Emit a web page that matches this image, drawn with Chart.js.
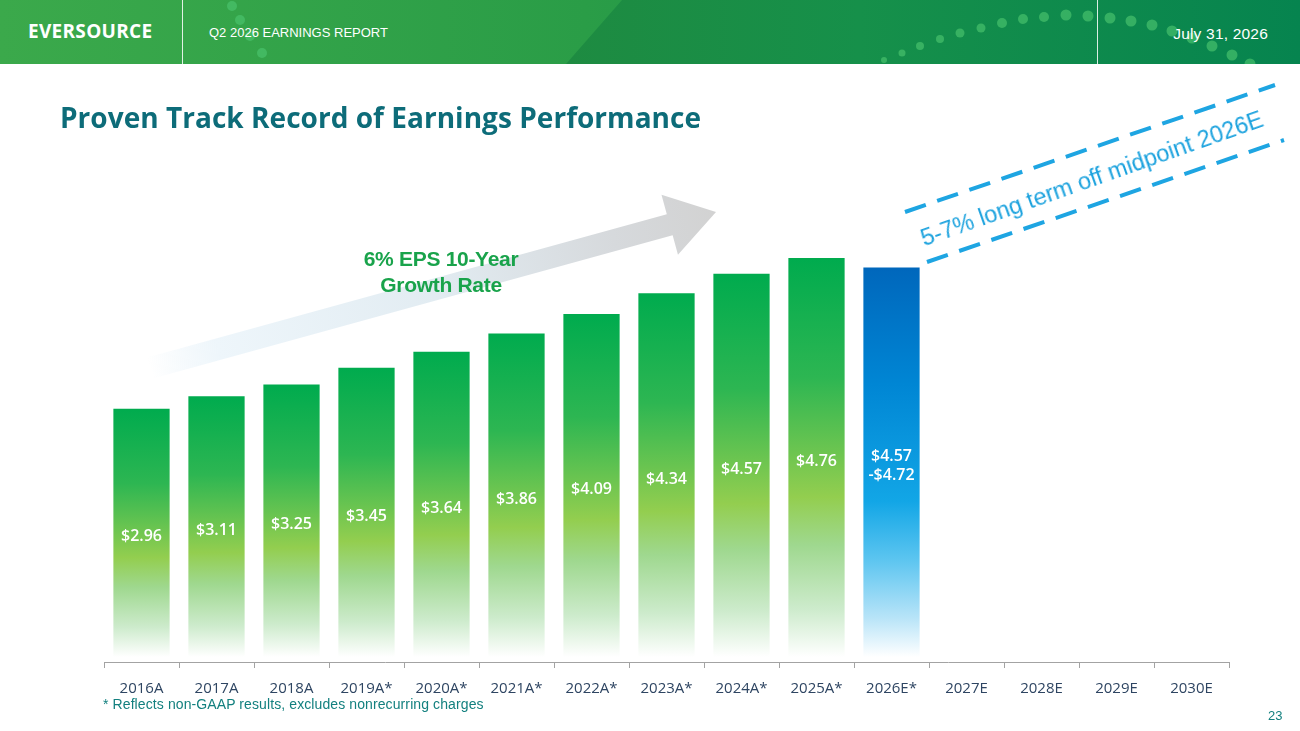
<!DOCTYPE html>
<html>
<head>
<meta charset="utf-8">
<title>Proven Track Record of Earnings Performance</title>
<script src="https://cdn.jsdelivr.net/npm/chart.js@4.4.1/dist/chart.umd.min.js"></script>
<style>
  html, body { margin: 0; padding: 0; background: #fff; }
  .slide { position: relative; width: 1300px; height: 731px; overflow: hidden; font-family: "Open Sans", sans-serif; }
  .chart-wrap { position: absolute; left: 0; top: 0; width: 1300px; height: 731px; }
  .header { position: absolute; left: 0; top: 0; width: 1300px; height: 64px; }
  .header svg { position: absolute; left: 0; top: 0; }
  .logo { position: absolute; left: 28px; top: 18px; color: #fff; font: 700 19px "Open Sans", sans-serif; letter-spacing: 0.3px; }
  .report { position: absolute; left: 209px; top: 25px; color: #fff; font: 13px "Liberation Sans", sans-serif; }
  .date { position: absolute; right: 32px; top: 25px; color: #fff; font: 15.5px "Liberation Sans", sans-serif; letter-spacing: 0.2px; }
  .title { position: absolute; left: 60px; top: 98px; color: #0d6c79; font: 700 28px "Open Sans", sans-serif; letter-spacing: 0.03px; }
  .growth { position: absolute; left: 341px; top: 246px; width: 200px; text-align: center; color: #19a34b; font: 700 21px/26px "Liberation Sans Narrow", "Liberation Sans", sans-serif; letter-spacing: -0.3px; }
  .long-term { position: absolute; left: 1092px; top: 179px; transform: translate(-50%, -50%) rotate(-19.5deg); white-space: nowrap; color: #1ba2de; font: 23.5px "Liberation Sans", sans-serif; }
  .footnote { position: absolute; left: 103px; top: 696px; color: #13807f; font: 14px "Liberation Sans Narrow", "Liberation Sans", sans-serif; letter-spacing: 0.1px; }
  .page-no { position: absolute; left: 1268px; top: 708px; color: #13807f; font: 13px "Liberation Sans", sans-serif; }
</style>
</head>
<body>
<div class="slide">
  <div class="chart-wrap"><canvas id="epsChart"></canvas></div>

  <div class="header">
    <svg width="1300" height="64">
      <defs>
        <linearGradient id="hdrBase" x1="0" x2="1" y1="0" y2="0">
          <stop offset="0" stop-color="#3ba94b"/>
          <stop offset="0.45" stop-color="#2a9d47"/>
          <stop offset="1" stop-color="#0a8750"/>
        </linearGradient>
        <linearGradient id="hdrDark" x1="0" x2="1" y1="0" y2="0">
          <stop offset="0" stop-color="#1e8b41"/>
          <stop offset="0.4" stop-color="#16904a"/>
          <stop offset="1" stop-color="#06844f"/>
        </linearGradient>
      </defs>
      <rect width="1300" height="64" fill="url(#hdrBase)"/>
      <polygon points="566,64 622,0 1300,0 1300,64" fill="url(#hdrDark)"/>
      <g fill="#4cc56f" fill-opacity="0.65">
        <circle cx="232" cy="6" r="5"/><circle cx="240" cy="20" r="5"/><circle cx="250" cy="36" r="5"/><circle cx="262" cy="53" r="5"/>
        <circle cx="884" cy="60" r="3"/><circle cx="902" cy="53" r="3.5"/><circle cx="920" cy="46" r="4"/><circle cx="940" cy="39" r="4"/>
        <circle cx="960" cy="33" r="4.5"/><circle cx="981" cy="28" r="4.5"/><circle cx="1002" cy="23" r="5"/><circle cx="1023" cy="19" r="5"/>
        <circle cx="1044" cy="17" r="5"/><circle cx="1066" cy="15" r="5.5"/><circle cx="1088" cy="16" r="5.5"/><circle cx="1110" cy="18" r="5.5"/>
        <circle cx="1131" cy="21" r="5.5"/><circle cx="1152" cy="25" r="5.5"/><circle cx="1172" cy="31" r="5.5"/><circle cx="1192" cy="38" r="5.5"/>
        <circle cx="1212" cy="46" r="5.5"/><circle cx="1232" cy="55" r="5.5"/><circle cx="1250" cy="64" r="5.5"/>
      </g>
      <line x1="182.5" y1="0" x2="182.5" y2="64" stroke="#ffffff" stroke-opacity="0.85"/>
      <line x1="1097.5" y1="0" x2="1097.5" y2="64" stroke="#ffffff" stroke-opacity="0.85"/>
    </svg>
    <div class="logo">EVERSOURCE</div>
    <div class="report">Q2 2026 EARNINGS REPORT</div>
    <div class="date">July 31, 2026</div>
  </div>

  <div class="title">Proven Track Record of Earnings Performance</div>
  <div class="growth">6% EPS 10-Year<br>Growth Rate</div>
  <div class="long-term">5-7% long term off midpoint 2026E</div>
  <div class="footnote">* Reflects non-GAAP results, excludes nonrecurring charges</div>
  <div class="page-no">23</div>
</div>

<script>
// Fiscal years on the axis; the last four have no bar yet.
const years = ["2016A", "2017A", "2018A", "2019A*", "2020A*", "2021A*", "2022A*", "2023A*",
  "2024A*", "2025A*", "2026E*", "2027E", "2028E", "2029E", "2030E"];

// EPS per year. 2026E is the guidance midpoint ($4.57-$4.72).
const eps = [2.96, 3.11, 3.25, 3.45, 3.64, 3.86, 4.09, 4.34, 4.57, 4.76, 4.645, null, null, null, null];

// Text shown inside each bar.
const epsLabels = ["$2.96", "$3.11", "$3.25", "$3.45", "$3.64", "$3.86", "$4.09", "$4.34",
  "$4.57", "$4.76", ["$4.57", "-$4.72"], "", "", "", ""];

// Actual results are green, the guidance year is blue.
const barKinds = ["actual", "actual", "actual", "actual", "actual", "actual", "actual", "actual",
  "actual", "actual", "guidance", "none", "none", "none", "none"];

const greenStops = [[0, "#00ab4e"], [0.3, "#2db652"], [0.6, "#93ce4f"], [0.72, "#9fd88f"], [0.88, "#cdebcc"], [1, "#ffffff"]];
const blueStops = [[0, "#0067bc"], [0.3, "#0086d4"], [0.6, "#12a6e6"], [0.75, "#5cc5f0"], [0.9, "#b8e4f8"], [1, "#ffffff"]];

function barFill(context) {
  const chart = context.chart;
  const value = context.raw;
  if (!chart.chartArea || value == null) return "rgba(0,0,0,0)";
  const y = chart.scales.y;
  const top = y.getPixelForValue(value);
  const base = y.getPixelForValue(0);
  const gradient = chart.ctx.createLinearGradient(0, top, 0, base);
  const stops = barKinds[context.dataIndex] === "guidance" ? blueStops : greenStops;
  stops.forEach(([offset, color]) => gradient.addColorStop(offset, color));
  return gradient;
}

// The faded growth arrow behind the left bars, plus the dashed band on the right.
const growthArrow = {
  id: "growthArrow",
  beforeDatasetsDraw(chart) {
    const ctx = chart.ctx;
    const tail = { x: 150, y: 368 };
    const tip = { x: 716, y: 212 };
    const len = Math.hypot(tip.x - tail.x, tip.y - tail.y);
    const dx = (tip.x - tail.x) / len;
    const dy = (tip.y - tail.y) / len;
    const nx = -dy;
    const ny = dx;
    const shaft = 11;
    const head = 31;
    const headLen = 48;
    const bx = tip.x - dx * headLen;
    const by = tip.y - dy * headLen;

    const gradient = ctx.createLinearGradient(tail.x, tail.y, tip.x, tip.y);
    gradient.addColorStop(0, "rgba(235,244,250,0)");
    gradient.addColorStop(0.12, "#eef6fb");
    gradient.addColorStop(0.5, "#e2ecf2");
    gradient.addColorStop(0.82, "#d6d9dc");
    gradient.addColorStop(1, "#d2d2d2");

    ctx.save();
    ctx.beginPath();
    ctx.moveTo(tail.x + nx * shaft, tail.y + ny * shaft);
    ctx.lineTo(bx + nx * shaft, by + ny * shaft);
    ctx.lineTo(bx + nx * head, by + ny * head);
    ctx.lineTo(tip.x, tip.y);
    ctx.lineTo(bx - nx * head, by - ny * head);
    ctx.lineTo(bx - nx * shaft, by - ny * shaft);
    ctx.lineTo(tail.x - nx * shaft, tail.y - ny * shaft);
    ctx.closePath();
    ctx.fillStyle = gradient;
    ctx.fill();

    ctx.strokeStyle = "#1ea5e2";
    ctx.lineWidth = 4;
    ctx.setLineDash([22, 12]);
    ctx.beginPath();
    ctx.moveTo(905, 212);
    ctx.lineTo(1275, 85);
    ctx.moveTo(927, 262);
    ctx.lineTo(1284, 140);
    ctx.stroke();
    ctx.restore();
  }
};

// White value labels in the middle of each bar.
const barValueLabels = {
  id: "barValueLabels",
  afterDatasetsDraw(chart) {
    const ctx = chart.ctx;
    const meta = chart.getDatasetMeta(0);
    ctx.save();
    ctx.fillStyle = "#ffffff";
    ctx.font = "600 16px 'Open Sans', sans-serif";
    ctx.textAlign = "center";
    ctx.textBaseline = "middle";
    meta.data.forEach((bar, i) => {
      if (eps[i] == null) return;
      const lines = [].concat(epsLabels[i]);
      const mid = (bar.y + bar.base) / 2 + 4;
      const lineHeight = 19;
      lines.forEach((line, k) => {
        ctx.fillText(line, bar.x, mid + (k - (lines.length - 1) / 2) * lineHeight);
      });
    });
    ctx.restore();
  }
};

new Chart(document.getElementById("epsChart"), {
  type: "bar",
  data: {
    labels: years,
    datasets: [{
      data: eps,
      backgroundColor: barFill,
      borderWidth: 0,
      categoryPercentage: 1,
      barPercentage: 0.75
    }]
  },
  options: {
    responsive: true,
    maintainAspectRatio: false,
    animation: false,
    layout: { padding: { left: 104, right: 71, top: 154, bottom: 21 } },
    plugins: {
      legend: { display: false },
      tooltip: { enabled: false }
    },
    scales: {
      x: {
        grid: { drawOnChartArea: false, drawTicks: true, tickLength: 6, color: "#a3a3a3", offset: true },
        border: { display: true, color: "#a3a3a3", width: 1 },
        ticks: { color: "#2e4562", font: { family: "'Open Sans', sans-serif", size: 15 }, padding: 12, maxRotation: 0, autoSkip: false }
      },
      y: { display: false, min: -0.06, max: 6 }
    }
  },
  plugins: [growthArrow, barValueLabels]
});
</script>
</body>
</html>
